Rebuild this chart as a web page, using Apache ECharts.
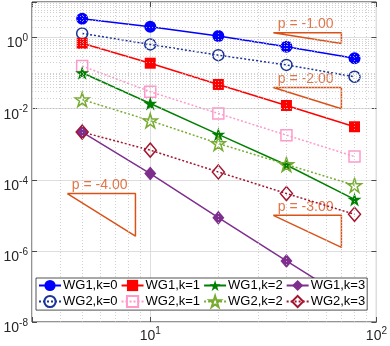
<!DOCTYPE html>
<html>
<head>
<meta charset="utf-8">
<script src="https://cdn.jsdelivr.net/npm/echarts@6/dist/echarts.min.js"></script>
<style>
  html, body { margin: 0; padding: 0; background: #fff; }
  #chart { width: 390px; height: 346px; }
</style>
</head>
<body>
<div id="chart"></div>
<script>
// 网格尺寸 N
const meshN = [5, 10, 20, 40, 80];
// 各方法误差
const wg1k0 = [3.4, 2.0, 1.1, 0.55, 0.26];
const wg2k0 = [1.31, 0.64, 0.32, 0.17, 0.079];
const wg1k1 = [0.69, 0.19, 0.048, 0.0123, 0.0031];
const wg2k1 = [0.158, 0.030, 0.0073, 0.0018, 0.00045];
const wg1k2 = [0.102, 0.014, 0.0019, 0.00026, 0.000028];
const wg2k2 = [0.018, 0.0046, 0.00105, 0.00027, 0.00007];
const wg1k3 = [0.0022, 0.00015, 0.0000086, 0.00000052, 0.000000033];
const wg2k3 = [0.0022, 0.00068, 0.000166, 0.000041, 0.0000107];

// 斜率三角形
const slopeText = ['p = -1.00', 'p = -2.00', 'p = -3.00', 'p = -4.00'];
const triX0 = [35, 35, 35, 4.3];
const triX1 = [70, 70, 70, 8.6];
const triTop = [1.36, 0.0395, 1.0e-5, 4.1e-5];
const triBottom = [0.68, 0.0099, 1.25e-6, 2.6e-6];

const FONT = '"Liberation Sans", Helvetica, Arial, sans-serif';
const STAR = 'path://M100,0 L122.45,69.1 L195.1,69.1 L136.3,111.8 L158.8,180.9 L100,138.2 L41.2,180.9 L63.7,111.8 L4.9,69.1 L77.55,69.1 Z';
const ORANGE = '#D95319';

const chart = echarts.init(document.getElementById('chart'), null, { renderer: 'canvas' });

function pow10Label(v) {
  const e = Math.round(Math.log10(v));
  if (Math.abs(Math.log10(v) - e) > 1e-6) return '';
  return '{b|10}{s|' + e + '}';
}

function mkSeries(name, ys, color, symbol, size, open) {
  return {
    name: name,
    type: 'line',
    data: meshN.map((x, i) => [x, ys[i]]),
    symbol: symbol,
    symbolSize: size,
    showSymbol: true,
    color: color,
    lineStyle: { color: color, width: 1.5, type: open ? [2, 2] : 'solid' },
    itemStyle: open
      ? { color: 'rgba(255,255,255,0)', borderColor: color, borderWidth: 1.5 }
      : { color: color, borderColor: color, borderWidth: 0 },
    z: 3
  };
}

// 次网格线
const minorX = [];
[1, 10].forEach(d => { for (let k = 2; k <= 9; k++) { const v = k * d; if (v > 3 && v < 100) minorX.push(v); } });
const minorY = [];
for (let e = -8; e <= 0; e++) {
  for (let k = 1; k <= 9; k++) {
    if (k === 1 && e % 2 === 0) continue;
    minorY.push(k * Math.pow(10, e));
  }
}

const seriesList = [
  {
    name: 'minorGrid', type: 'line', data: [], silent: true, z: 1,
    markLine: {
      silent: true, symbol: 'none', label: { show: false }, animation: false,
      lineStyle: { color: '#c4c4c4', width: 0.8, type: [1, 2] },
      data: minorX.map(v => ({ xAxis: v })).concat(minorY.map(v => ({ yAxis: v })))
    }
  },
  mkSeries('WG1,k=0', wg1k0, '#0000FF', 'circle', 12, false),
  mkSeries('WG2,k=0', wg2k0, '#1A3399', 'circle', 11, true),
  mkSeries('WG1,k=1', wg1k1, '#FF0000', 'rect', 11, false),
  mkSeries('WG2,k=1', wg2k1, '#FF99CC', 'rect', 11, true),
  mkSeries('WG1,k=2', wg1k2, '#008000', STAR, 14, false),
  mkSeries('WG2,k=2', wg2k2, '#77AC30', STAR, 14, true),
  mkSeries('WG1,k=3', wg1k3, '#7E2F8E', 'diamond', [12, 14], false),
  mkSeries('WG2,k=3', wg2k3, '#A2142F', 'diamond', [12, 14], true)
];

slopeText.forEach((t, i) => {
  seriesList.push({
    name: 'tri' + i, type: 'line', symbol: 'none', silent: true, z: 2,
    lineStyle: { color: ORANGE, width: 1.5 },
    data: [[triX0[i], triTop[i]], [triX1[i], triTop[i]], [triX1[i], triBottom[i]], [triX0[i], triTop[i]]]
  });
  seriesList.push({
    name: 'triLabel' + i, type: 'scatter', symbolSize: 1, silent: true, z: 2,
    itemStyle: { color: 'rgba(0,0,0,0)' },
    label: {
      show: true, formatter: t, position: [5, -8], align: 'left', verticalAlign: 'middle',
      color: ORANGE, fontSize: 14, fontFamily: FONT
    },
    data: [[triX0[i], triTop[i]]]
  });
});

const richLabel = {
  b: { fontSize: 14, fontFamily: FONT, color: '#262626', verticalAlign: 'bottom', lineHeight: 14 },
  s: { fontSize: 10, fontFamily: FONT, color: '#262626', verticalAlign: 'bottom', lineHeight: 10, padding: [0, 0, 7, 0] }
};

const axisCommon = {
  type: 'log', logBase: 10,
  axisLine: { show: false },
  axisTick: { show: true, inside: true, length: 5, lineStyle: { color: '#262626', width: 0.8 } },
  splitLine: { show: true, lineStyle: { color: '#dedede', width: 1 } }
};

chart.setOption({
  animation: false,
  backgroundColor: '#fff',
  grid: { left: 32, right: 11, top: 2, bottom: 24, show: true, borderColor: '#262626', borderWidth: 1, backgroundColor: '#fff' },
  xAxis: [
    Object.assign({}, axisCommon, {
      position: 'bottom', min: 3, max: 100,
      axisLabel: { formatter: pow10Label, rich: richLabel, margin: 7 }
    }),
    Object.assign({}, axisCommon, {
      position: 'top', min: 3, max: 100, axisLabel: { show: false }, splitLine: { show: false }
    })
  ],
  yAxis: [
    Object.assign({}, axisCommon, {
      position: 'left', min: 1e-8, max: 10, interval: 2,
      axisLabel: { formatter: v => (Math.round(Math.log10(v)) % 2 === 0 ? pow10Label(v) : ''), rich: richLabel, margin: 4, padding: [12, 0, 0, 0] }
    }),
    Object.assign({}, axisCommon, {
      position: 'right', min: 1e-8, max: 10, interval: 2, axisLabel: { show: false }, splitLine: { show: false }
    })
  ],
  legend: {
    left: 36, top: 278, width: 340, padding: [1, 2, 2, 2],
    itemWidth: 22, itemHeight: 14, itemGap: 3, z: 20, zlevel: 1,
    backgroundColor: '#fff', borderColor: '#262626', borderWidth: 0.8, borderRadius: 0,
    textStyle: { fontSize: 13, fontFamily: FONT, color: '#000', padding: [0, 0, 0, -3] },
    data: ['WG1,k=0', 'WG1,k=1', 'WG1,k=2', 'WG1,k=3', 'WG2,k=0', 'WG2,k=1', 'WG2,k=2', 'WG2,k=3']
  },
  series: seriesList
});
</script>
</body>
</html>
